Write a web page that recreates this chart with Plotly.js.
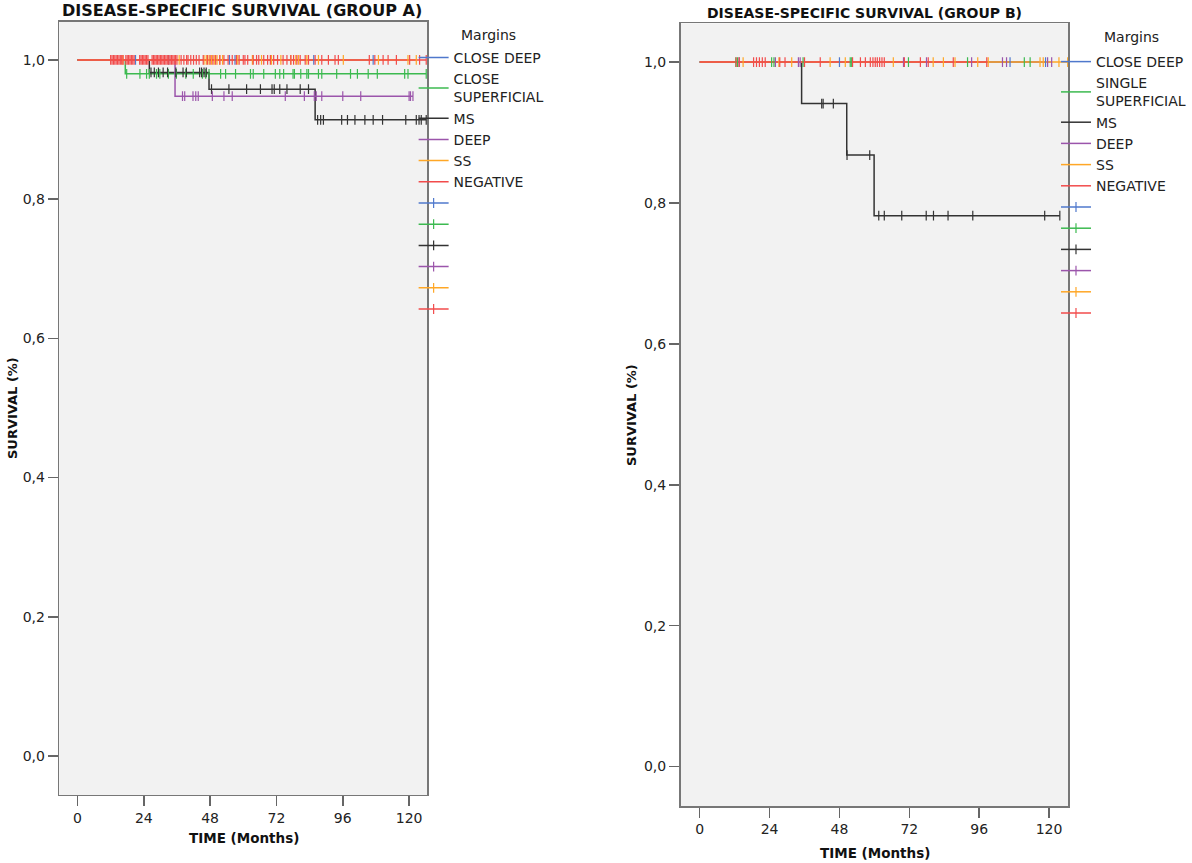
<!DOCTYPE html>
<html>
<head>
<meta charset="utf-8">
<script src="https://cdn.plot.ly/plotly-3.0.1.min.js"></script>
<style>body{margin:0;background:#fff}</style>
</head>
<body>
<div id="chart" style="width:1192px;height:863px"></div>
<script>
const namesA = ['CLOSE DEEP', 'CLOSE<br>SUPERFICIAL', 'MS', 'DEEP', 'SS', 'NEGATIVE'];
const namesB = ['CLOSE DEEP', 'SINGLE<br>SUPERFICIAL', 'MS', 'DEEP', 'SS', 'NEGATIVE'];
const colors = ['#4f78cc', '#3cba50', '#333333', '#9b55ab', '#ffa726', '#f24b4b'];
const ticksX = [0, 24, 48, 72, 96, 120];

// group A: event times, survival after each event, censored times (months)
const eventsA = [[], [17.3], [26.0, 47.6, 86.0], [35.3], [], []];
const survA = [[], [0.980], [0.982, 0.958, 0.914], [0.948], [], []];
const censA = [
	[21, 33, 55, 57, 85.5, 107],
	[17.8, 22.6, 25.0, 26.0, 28.6, 29.8, 32.9, 35.8, 39.2, 41.9, 45.2, 46.4, 47.6, 51.8, 53.6, 57.2,
	 62.6, 63.6, 67.4, 71.6, 73.2, 74.6, 78.0, 78.5, 80.8, 83.0, 83.6, 87.2, 88.4, 93.8, 98.8, 101.3,
	 105.2, 108.5, 118.4, 119.6, 126.2],
	[26.6, 27.8, 29.3, 31.0, 32.6, 35.6, 38.2, 39.4, 44.2, 44.9, 45.8, 46.6,
	 48.5, 54.8, 61.2, 66.2, 70.4, 71.2, 73.2, 75.8, 80.6, 83.6,
	 86.9, 88.0, 89.0, 95.6, 97.7, 100.4, 104.0, 107.0, 110.4, 118.8, 122.6, 123.6, 124.4, 126.2],
	[38.0, 38.8, 41.8, 42.8, 43.7, 48.8, 53.0, 56.0, 75.2, 82.1, 85.7, 86.4, 88.4, 96.0, 102.5,
	 120.0, 120.5, 121.4],
	[16.4, 36.8, 45.8, 46.6, 47.6, 48.5, 49.5, 50.5, 51.5, 52.5, 58, 63.3, 66.6, 70.2, 73.6, 77.2,
	 79, 80, 83, 87.2, 96.2, 108.9, 119.6, 122.6],
	[12, 12.5, 13, 13.5, 14, 14.5, 15, 15.5, 16, 16.5, 17.5, 18, 18.5, 19, 19.5, 20, 20.5,
	 22.5, 23, 23.5, 24, 24.5, 25, 25.5, 27, 27.5, 28, 28.5, 29, 29.5, 30, 30.5, 31, 31.5, 32, 32.5,
	 33, 33.5, 34, 34.5, 35, 35.5, 36, 37.5, 38.5, 39.5, 40, 41, 42, 43, 44, 45.5, 47, 48, 49, 50,
	 51.5, 53, 54.5, 56, 57.5, 58.5, 60, 60.6, 61.6, 63.6, 64.8, 65.6, 67.4, 68.8, 69.8, 71.0, 72.4,
	 74.4, 75.8, 77.2, 78.2, 79.4, 80.6, 82.4, 83.6, 86.0, 88.4, 90.8, 93.2, 94.4, 105.6, 107.6,
	 110.6, 112.4, 115.4, 120.2, 123.8, 126.2]
];

// group B
const eventsB = [[], [], [35.0, 50.5, 59.9], [], [], []];
const survB = [[], [], [0.941, 0.868, 0.782], [], [], []];
const censB = [
	[48.0, 106.6, 118.8],
	[12.4, 13.0, 24.7, 25.5, 35.5, 51.7, 52.2, 71.7, 92.0, 111.5, 113.5],
	[41.9, 42.4, 45.9, 50.6, 58.4, 61.5, 63.4, 69.4, 77.8, 80.3, 85.3, 93.8, 118.5, 123.7],
	[13.6, 26.0, 33.9, 34.5, 70.0, 77.9, 93.4, 104.0, 105.4, 119.5, 120.9],
	[14.9, 27.2, 31.6, 44.8, 50.0, 66.5, 80.2, 83.7, 87.7, 95.5, 99.1, 116.9, 118.0, 123.4, 126.4],
	[12.5, 13.5, 18.5, 19.5, 20.5, 21.5, 22.5, 27.5, 29.3, 36.0, 41.4, 52.5, 55.2, 56.9, 58.6, 59.5,
	 60.3, 61.0, 61.8, 62.6, 63.4, 70.3, 75.8, 78.5, 87.1, 98.6]
];

function survAt(t, ev, sv) {
	let s = 1;
	for (let i = 0; i < ev.length; i++) if (ev[i] <= t) s = sv[i];
	return s;
}

function curves(names, ev, sv, cens, xa, ya, leg) {
	let lines = [], marks = [];
	names.forEach((name, i) => {
		const end = Math.max(...cens[i], ...ev[i]);
		const last = sv[i].length ? sv[i][sv[i].length - 1] : 1;
		lines.push({
			x: [0, ...ev[i], end], y: [1, ...sv[i], last],
			mode: 'lines', line: {shape: 'hv', color: colors[i], width: 1.5},
			name: name, xaxis: xa, yaxis: ya, legend: leg
		});
		// censored cases: separate points, so the line part only shows in the legend
		let cx = [], cy = [];
		for (const t of cens[i]) {
			cx.push(t, null);
			cy.push(survAt(t, ev[i], sv[i]), null);
		}
		marks.push({
			x: cx, y: cy, mode: 'lines+markers', connectgaps: false,
			line: {color: colors[i], width: 1.5},
			marker: {symbol: 'line-ns-open', size: 7, line: {color: colors[i], width: 1.2}},
			name: '', xaxis: xa, yaxis: ya, legend: leg
		});
	});
	return lines.concat(marks);
}

const data = curves(namesA, eventsA, survA, censA, 'x', 'y', 'legend')
	.concat(curves(namesB, eventsB, survB, censB, 'x2', 'y2', 'legend2'));

const font = {family: 'DejaVu Sans, sans-serif', size: 14, color: '#222'};
const xax = {
	range: [-6.6, 126.6], tickvals: ticksX, ticks: 'outside', ticklen: 10, tickwidth: 1.5,
	tickcolor: '#666', showline: true, linecolor: '#777', linewidth: 1.5, mirror: true,
	showgrid: false, zeroline: false, fixedrange: true, tickfont: {size: 14}
};
const yax = {
	range: [-0.056, 1.055], dtick: 0.2, tick0: 0, tickformat: '.1f', ticks: 'outside', ticklen: 10,
	tickwidth: 1.5, tickcolor: '#666', showline: true, linecolor: '#777', linewidth: 1.5,
	mirror: true, showgrid: false, zeroline: false, fixedrange: true, tickfont: {size: 14}
};
const legendBase = {
	xanchor: 'left', yanchor: 'top', bgcolor: 'rgba(0,0,0,0)',
	font: {family: 'DejaVu Sans, sans-serif', size: 14, color: '#222'},
	tracegroupgap: 0, itemwidth: 30
};
const bold = {family: 'DejaVu Sans, sans-serif', color: '#111'};
const plain = {family: 'DejaVu Sans, sans-serif', color: '#222', size: 14};

const layout = {
	width: 1192, height: 863,
	margin: {l: 0, r: 0, t: 0, b: 0},
	paper_bgcolor: '#fff', plot_bgcolor: '#f2f2f2',
	separators: ',.', font: font, showlegend: true,
	xaxis: Object.assign({domain: [0.0497, 0.3585], anchor: 'y'}, xax),
	yaxis: Object.assign({domain: [0.0788, 0.9749], anchor: 'x'}, yax),
	xaxis2: Object.assign({domain: [0.5709, 0.8962], anchor: 'y2'}, xax),
	yaxis2: Object.assign({domain: [0.066, 0.973], anchor: 'x2'}, yax),
	legend: Object.assign({x: 0.347, y: 1 - 42 / 863}, legendBase),
	legend2: Object.assign({x: 0.8859, y: 1 - 46 / 863}, legendBase),
	annotations: [
		{text: '<b>DISEASE-SPECIFIC SURVIVAL (GROUP A)</b>', x: 0.2034, y: 1 - 10.5 / 863,
			font: Object.assign({size: 16}, bold)},
		{text: '<b>DISEASE-SPECIFIC SURVIVAL (GROUP B)</b>', x: 864 / 1192, y: 1 - 13.3 / 863,
			font: Object.assign({size: 14}, bold)},
		{text: '<b>TIME (Months)</b>', x: 243.8 / 1192, y: 1 - 838.3 / 863, font: Object.assign({size: 13.5}, bold)},
		{text: '<b>TIME (Months)</b>', x: 874.5 / 1192, y: 1 - 852.7 / 863, font: Object.assign({size: 13.5}, bold)},
		{text: '<b>SURVIVAL (%)</b>', x: 12 / 1192, y: 1 - 408 / 863, textangle: -90,
			font: Object.assign({size: 13}, bold)},
		{text: '<b>SURVIVAL (%)</b>', x: 632 / 1192, y: 1 - 415 / 863, textangle: -90,
			font: Object.assign({size: 13}, bold)},
		{text: 'Margins', x: 459 / 1192, y: 1 - 35 / 863, xanchor: 'left', font: plain},
		{text: 'Margins', x: 1102 / 1192, y: 1 - 37 / 863, xanchor: 'left', font: plain}
	].map(a => Object.assign({xref: 'paper', yref: 'paper', showarrow: false,
		xanchor: 'center', yanchor: 'middle'}, a))
};

Plotly.newPlot('chart', data, layout, {displayModeBar: false, staticPlot: true});
</script>
</body>
</html>
